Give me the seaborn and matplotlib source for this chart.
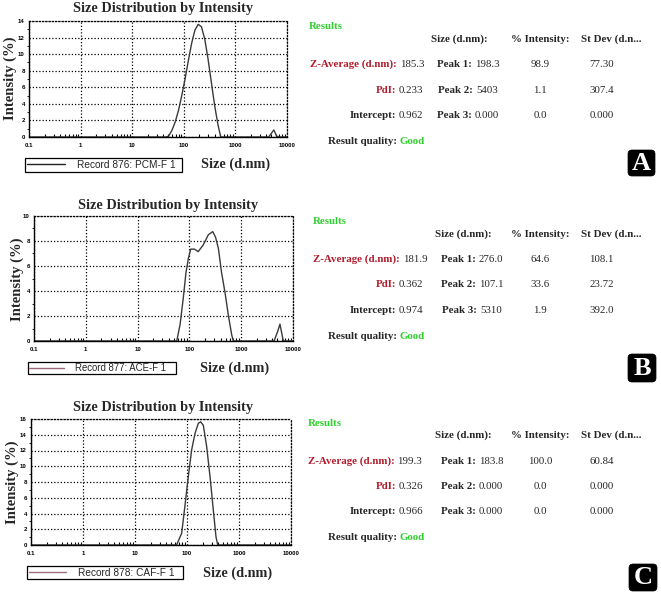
import matplotlib
matplotlib.use("Agg")
import matplotlib.pyplot as plt
import matplotlib.transforms as mtransforms
from matplotlib.patches import FancyBboxPatch
from matplotlib.lines import Line2D
from matplotlib.ticker import FixedLocator, FixedFormatter, MultipleLocator
import pandas as pd
import seaborn as sns

# ---------------- data ----------------
sizes_a = [0.1, 45, 50.7, 58.8, 68.1, 78.8, 91.3, 105.7, 122.4, 141.8, 164.2, 190.1,
           220.2, 255.0, 295.3, 342.0, 396.1, 458.7, 520, 4400, 4850, 5560, 6300, 7000, 10000]
intensity_a = [0, 0, 0.1, 0.8, 1.8, 3.2, 5.0, 7.0, 9.2, 11.3, 12.9, 13.6,
               13.3, 11.8, 9.4, 6.6, 3.8, 1.5, 0, 0, 0.35, 0.85, 0.1, 0, 0]

sizes_b = [0.1, 50, 57, 66, 76, 86, 95.5, 106, 125, 148, 186, 232, 282, 320, 363,
           417, 486, 563, 655, 705, 4300, 5000, 5600, 6500, 10000]
intensity_b = [0, 0, 0, 1.3, 3.4, 5.5, 6.6, 7.35, 7.35, 7.15, 7.7, 8.5, 8.75, 8.3, 7.4,
               5.5, 3.9, 2.1, 0.5, 0, 0, 0.7, 1.35, 0, 0]

sizes_c = [0.1, 63, 79, 91, 106, 123, 143, 165, 183, 206, 239, 277, 321, 361, 390, 10000]
intensity_c = [0, 0, 1.5, 4.9, 8.7, 12.1, 14.2, 15.45, 15.65, 15.2, 12.5, 8.7, 4.4, 1.05, 0, 0]

records = ["Record 876: PCM-F 1", "Record 877: ACE-F 1", "Record 878: CAF-F 1"]
y_max = [14, 10, 16]
x_ticks = [0.1, 1, 10, 100, 1000, 10000]
x_ticklabels = ["0.1", "1", "10", "100", "1000", "10000"]
letters = ["A", "B", "C"]

z_average = ["185.3", "181.9", "199.3"]
pdi = ["0.233", "0.362", "0.326"]
intercept = ["0.962", "0.974", "0.966"]
quality = ["Good", "Good", "Good"]
peak_size = [["198.3", "5403", "0.000"], ["276.0", "107.1", "5310"], ["183.8", "0.000", "0.000"]]
peak_intensity = [["98.9", "1.1", "0.0"], ["64.6", "33.6", "1.9"], ["100.0", "0.0", "0.0"]]
peak_stdev = [["77.30", "307.4", "0.000"], ["108.1", "23.72", "392.0"], ["60.84", "0.000", "0.000"]]

# ---------------- layout (pixels) ----------------
W, H = 661, 595
axes_px = [(29, 21, 287, 137), (34, 216, 293, 341), (31, 419, 291, 545)]
title_px = [(163, 8.5), (168, 205), (163, 407)]
ylabel_px = [(10, 78), (17, 279), (12, 482)]
xlabel_px = [(201, 164), (200, 368), (203, 573)]
legend_px = [(25, 158, 182, 172), (28, 362, 176, 374), (27, 566, 183, 579)]
legend_line_col = ["#222222", "#9a6878", "#a07080"]
legend_fs = [7.3, 6.9, 7.3]
legend_hl = [3.8, 3.6, 3.7]
results_x = [309, 313, 308]
results_y = [25, 220, 422]
header_y = [38, 233, 434]
rows_y = [[63, 89, 114, 140], [258, 283, 309, 335], [460, 485, 510, 536]]
z_colon_x = [396.7, 400, 394.3]
colon_x = 396
peak_cx = [468, 472, 472]
badge_px = [(628, 150, 655, 176), (628, 354, 656, 382), (629, 564, 657, 591)]
BASE = 3.6  # pixel offset from visual centre to baseline for table text

GREEN = "#2fcf2f"
RED = "#b01c2c"
CURVE = "#3a3a3a"
SERIF = ["Liberation Serif", "DejaVu Serif"]
SANS = ["Liberation Sans", "DejaVu Sans"]

sns.set_theme(style="white")
plt.rcParams["font.family"] = SERIF
plt.rcParams["axes.linewidth"] = 1.0

fig = plt.figure(figsize=(W / 100, H / 100), dpi=100)
fig.patch.set_facecolor("white")


def fx(x):
    return x / W


def fy(y):
    return 1 - y / H


def T(x, y, s, **kw):
    kw.setdefault("va", "center")
    kw.setdefault("fontsize", 7.8)
    kw.setdefault("family", SERIF)
    return fig.text(fx(x), fy(y), s, **kw)


def TB(x, y, s, **kw):
    """table text: y is the visual centre, drawn on a common baseline"""
    kw["va"] = "baseline"
    return T(x, y + BASE, s, **kw)


series = [(sizes_a, intensity_a), (sizes_b, intensity_b), (sizes_c, intensity_c)]
fig.canvas.draw()
rend = fig.canvas.get_renderer()

for i in range(3):
    l, t, r, b = axes_px[i]
    ax = fig.add_axes([fx(l), fy(b), (r - l) / W, (b - t) / H])
    df = pd.DataFrame({"size": series[i][0], "intensity": series[i][1]})
    sns.lineplot(data=df, x="size", y="intensity", ax=ax, color=CURVE, lw=1.0, sort=False)
    ax.set_xscale("log")
    ax.set_xlim(0.1, 10000)
    ax.set_ylim(0, y_max[i])
    ax.set_xlabel("")
    ax.set_ylabel("")
    ax.xaxis.set_major_locator(FixedLocator(x_ticks))
    ax.xaxis.set_major_formatter(FixedFormatter(x_ticklabels))
    ax.yaxis.set_major_locator(MultipleLocator(2))
    ax.yaxis.set_minor_locator(MultipleLocator(1))
    ax.grid(True, which="major", color="black", linestyle=(0, (1, 1.6)), lw=0.9)
    for sp in ["top", "right"]:
        ax.spines[sp].set_linestyle((0, (1, 1.6)))
        ax.spines[sp].set_linewidth(0.9)
        ax.spines[sp].set_color("black")
    for sp in ["left", "bottom"]:
        ax.spines[sp].set_color("black")
        ax.spines[sp].set_linewidth(1.0)
    ax.tick_params(axis="x", which="major", direction="in", length=3, width=0.8,
                   pad=4, labelsize=4.4, colors="black")
    ax.tick_params(axis="x", which="minor", direction="in", length=2.5, width=0.8,
                   bottom=True, colors="black")
    ax.tick_params(axis="y", which="major", direction="out", length=2, width=0.8,
                   pad=1, labelsize=4.4, colors="black")
    ax.tick_params(axis="y", which="minor", direction="out", length=1.5, width=0.7, left=True)
    for lab in ax.get_xticklabels() + ax.get_yticklabels():
        lab.set_family(SANS)
        lab.set_fontweight("bold")

    # legend below the axes
    lx0, ly0, lx1, ly1 = legend_px[i]
    handle = Line2D([], [], color=legend_line_col[i], lw=1.0)
    leg = ax.legend([handle], [records[i]], loc="center",
                    bbox_to_anchor=(fx(lx0), fy(ly1), (lx1 - lx0) / W, (ly1 - ly0) / H),
                    bbox_transform=fig.transFigure, mode="expand", borderaxespad=0,
                    frameon=True, fancybox=False, edgecolor="black", framealpha=1,
                    borderpad=0.15, handlelength=legend_hl[i], handletextpad=1.2,
                    prop={"family": SANS, "size": legend_fs[i]})
    leg.get_frame().set_linewidth(0.9)

    # titles / labels
    T(title_px[i][0], title_px[i][1], "Size Distribution by Intensity",
      ha="center", fontsize=10.3, fontweight="bold")
    T(ylabel_px[i][0], ylabel_px[i][1], "Intensity (%)", ha="center",
      rotation=90, fontsize=10.5, fontweight="bold")
    T(xlabel_px[i][0], xlabel_px[i][1], "Size (d.nm)", ha="left",
      fontsize=10.3, fontweight="bold")

    # results table
    TB(results_x[i], results_y[i], "Results", color=GREEN, fontweight="bold")
    TB(peak_cx[i] - 9, header_y[i], "Size (d.nm):", ha="center", fontweight="bold")
    TB(540, header_y[i], "% Intensity:", ha="center", fontweight="bold")
    TB(611, header_y[i], "St Dev (d.n...", ha="center", fontweight="bold")

    ry = rows_y[i]
    TB(z_colon_x[i], ry[0], "Z-Average (d.nm):", ha="right", color=RED, fontweight="bold")
    TB(z_colon_x[i] + 3, ry[0], z_average[i], ha="left")
    TB(colon_x, ry[1], "PdI:", ha="right", color=RED, fontweight="bold")
    TB(colon_x + 3, ry[1], pdi[i], ha="left")
    TB(colon_x, ry[2], "Intercept:", ha="right", fontweight="bold")
    TB(colon_x + 3, ry[2], intercept[i], ha="left")
    TB(colon_x + 1, ry[3], "Result quality:", ha="right", fontweight="bold")
    TB(colon_x + 3, ry[3], quality[i], ha="left", color=GREEN, fontweight="bold")

    for k in range(3):
        txt = TB(0, ry[k], f"Peak {k + 1}:", fontweight="bold")
        val = TB(0, ry[k], peak_size[i][k])
        wl = txt.get_window_extent(rend).width
        wv = val.get_window_extent(rend).width
        gap = 3
        x0 = peak_cx[i] - (wl + gap + wv) / 2
        txt.set_x(fx(x0))
        val.set_x(fx(x0 + wl + gap))
        TB(540, ry[k], peak_intensity[i][k], ha="center")
        TB(601.5, ry[k], peak_stdev[i][k], ha="center")

    # badge
    bx0, by0, bx1, by1 = badge_px[i]
    badge = FancyBboxPatch((bx0, H - by1), bx1 - bx0, by1 - by0,
                           boxstyle="round,pad=0,rounding_size=4",
                           transform=mtransforms.IdentityTransform(),
                           facecolor="black", edgecolor="black", lw=0.5)
    fig.patches.append(badge)
    T((bx0 + bx1) / 2, (by0 + by1) / 2 + 0.5, letters[i], ha="center",
      color="white", fontsize=19, fontweight="bold")

fig.savefig("out.png", dpi=100, facecolor="white")
